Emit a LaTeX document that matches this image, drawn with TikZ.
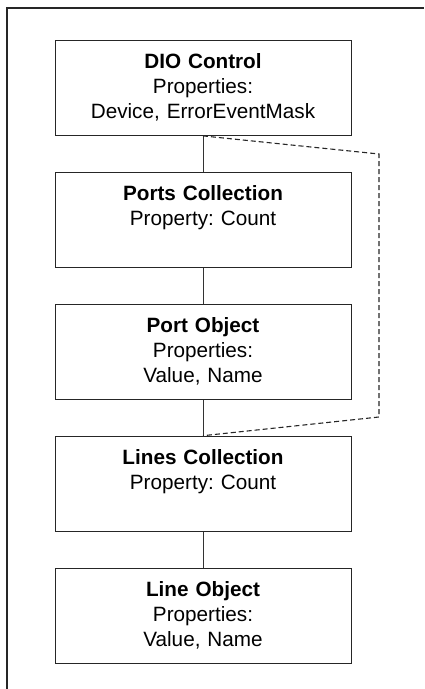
\documentclass[tikz,border=0pt]{standalone}
\usepackage{fontspec}
\setmainfont{Liberation Sans}
\usepackage{tikz}
\usetikzlibrary{positioning}
\frenchspacing

\begin{document}
\begin{tikzpicture}[
    font=\fontsize{20.7pt}{25pt}\selectfont,
    node distance=36pt,
    box/.style={draw=black!85, line width=0.9pt, align=center, text width=296pt, inner sep=0pt, text height=28pt, text depth=67pt},
    link/.style={draw=black!80, line width=1pt},
    dlink/.style={draw=black!85, line width=1.1pt, dash pattern=on 5pt off 3pt}
]
\useasboundingbox (0,0) rectangle (424pt,-689pt);
% frame
\draw[black!85, line width=1.5pt] (7pt,-689pt) -- (7pt,-8pt) -- (424pt,-8pt);

\node[box, anchor=north] (dio) at (203pt,-40pt) {\textbf{DIO Control}\\Properties:\\Device, ErrorEventMask};
\node[box, below=of dio] (ports) {\textbf{Ports Collection}\\Property: Count};
\node[box, below=of ports] (port) {\textbf{Port Object}\\Properties:\\Value, Name};
\node[box, below=of port] (lines) {\textbf{Lines Collection}\\Property: Count};
\node[box, below=of lines] (line) {\textbf{Line Object}\\Properties:\\Value, Name};

\coordinate (dtop) at (379pt,-154pt);
\coordinate (dbot) at (379pt,-417pt);

\draw[link] (dio) -- (ports);
\draw[link] (ports) -- (port);
\draw[link] (port) -- (lines);
\draw[link] (lines) -- (line);
\draw[dlink] (dio.south) -- (dtop) -- (dbot) -- (lines.north);
\end{tikzpicture}
\end{document}
